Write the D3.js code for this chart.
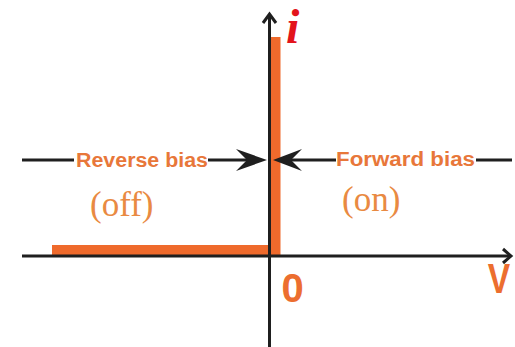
<!DOCTYPE html>
<meta charset="utf-8">
<style>
body { margin: 0; background: #fff; }
.axis { stroke: #1f1f1f; stroke-width: 3; fill: none; }
.bias { font-family: "Liberation Sans", Arial, sans-serif; font-weight: bold; font-size: 20px; fill: #e8773a; }
.state { font-family: "Liberation Serif", "Times New Roman", serif; font-size: 35px; fill: #e98a42; }
</style>
<svg width="515" height="347"></svg>
<script src="https://d3js.org/d3.v7.min.js"></script>
<script>

// ideal diode I-V characteristic
var voltage = [-1, 0, 0];
var current = [0, 0, 1];

var regionLabels = ["Reverse bias", "Forward bias"];
var stateLabels = ["(off)", "(on)"];
var axisLabels = ["V", "i"];
var originLabel = "0";

var svg = d3.select("svg");

var x = d3.scaleLinear().domain([-1, 0]).range([46, 269.5]);
var y = d3.scaleLinear().domain([0, 1]).range([256, 43]);

var x0 = x(0), y0 = y(0);

// curve (drawn as a thick band sitting beside the axes)
var line = d3.line()
    .x(function(d, i) { return x(voltage[i]) + 6; })
    .y(function(d, i) { return y(current[i]) - 6; });

svg.append("path")
    .datum(voltage)
    .attr("d", line)
    .attr("fill", "none")
    .attr("stroke", "#ef6a2c")
    .attr("stroke-width", 10)
    .attr("stroke-linejoin", "miter");

// axes
svg.append("line").attr("class", "axis")
    .attr("x1", 22).attr("x2", 511).attr("y1", y0).attr("y2", y0);
svg.append("polyline").attr("class", "axis")
    .attr("points", [[503, y0 - 7], [511, y0], [503, y0 + 7]].join(" "));

svg.append("line").attr("class", "axis")
    .attr("x1", x0).attr("x2", x0).attr("y1", 347).attr("y2", 14);
svg.append("polyline").attr("class", "axis")
    .attr("points", [[x0 - 6.5, 23], [x0, 14], [x0 + 6.5, 23]].join(" "));

// axis labels
svg.append("text")
    .attr("transform", "translate(499,293) scale(0.8,1)")
    .attr("text-anchor", "middle")
    .style("font-family", "Liberation Sans, Arial, sans-serif")
    .style("font-weight", "bold")
    .style("font-size", "42px")
    .style("fill", "#ec6e2f")
    .text(axisLabels[0]);

svg.append("text")
    .attr("x", 286).attr("y", 43)
    .style("font-family", "Liberation Serif, Times New Roman, serif")
    .style("font-weight", "bold")
    .style("font-style", "italic")
    .style("font-size", "48px")
    .style("fill", "#e3141c")
    .text(axisLabels[1]);

svg.append("text")
    .attr("x", x0 + 23).attr("y", 302)
    .attr("text-anchor", "middle")
    .style("font-family", "Liberation Sans, Arial, sans-serif")
    .style("font-weight", "bold")
    .style("font-size", "40px")
    .style("fill", "#ec6e2f")
    .text(originLabel);

// bias arrows
var ay = 160;
svg.append("line").attr("class", "axis").attr("x1", 22).attr("x2", 74).attr("y1", ay).attr("y2", ay);
svg.append("line").attr("class", "axis").attr("x1", 208).attr("x2", 250).attr("y1", ay).attr("y2", ay);
svg.append("line").attr("class", "axis").attr("x1", 288).attr("x2", 336).attr("y1", ay).attr("y2", ay);
svg.append("line").attr("class", "axis").attr("x1", 476).attr("x2", 512).attr("y1", ay).attr("y2", ay);

svg.append("polygon")
    .attr("points", [[x0 - 2.5, ay], [236, ay - 11], [247, ay], [236, ay + 11]].join(" "))
    .attr("fill", "#1f1f1f");
svg.append("polygon")
    .attr("points", [[x0 + 3.5, ay], [302, ay - 11], [291, ay], [302, ay + 11]].join(" "))
    .attr("fill", "#1f1f1f");

svg.append("text").attr("class", "bias")
    .attr("x", 76).attr("y", 167)
    .attr("textLength", 132).attr("lengthAdjust", "spacingAndGlyphs")
    .text(regionLabels[0]);
svg.append("text").attr("class", "bias")
    .attr("x", 336).attr("y", 166)
    .attr("textLength", 139).attr("lengthAdjust", "spacingAndGlyphs")
    .text(regionLabels[1]);

svg.append("text").attr("class", "state")
    .attr("x", 90).attr("y", 216)
    .text(stateLabels[0]);
svg.append("text").attr("class", "state")
    .attr("x", 342).attr("y", 211)
    .text(stateLabels[1]);

</script>
